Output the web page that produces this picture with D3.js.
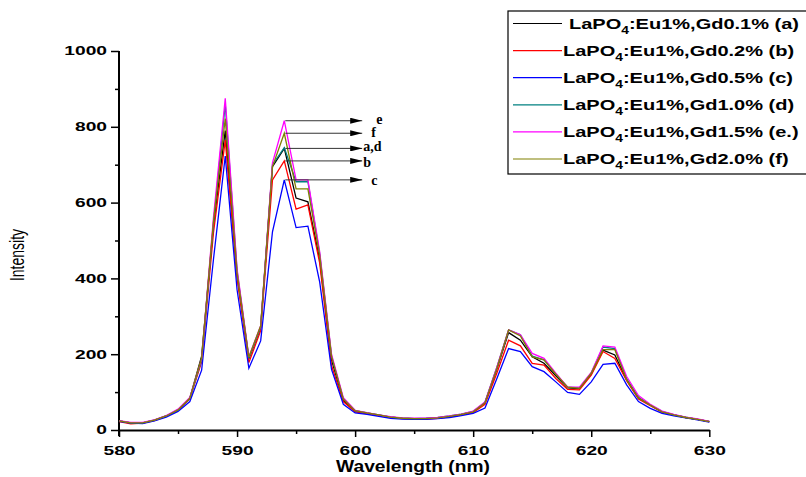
<!DOCTYPE html>
<html>
<head>
<meta charset="utf-8">
<script src="https://cdn.jsdelivr.net/npm/d3@7"></script>
<style>
  body { margin: 0; background: #fff; }
  svg { display: block; }
  .tick text { font-family: "Liberation Sans", Arial, sans-serif; font-weight: bold; font-size: 12px; fill: #000; }
</style>
</head>
<body>
<div class="chart"></div>
<script>
// wavelength (nm)
const wavelengths = [580, 581, 582, 583, 584, 585, 586, 587, 588, 589, 590,
  591, 592, 593, 594, 595, 596, 597, 598, 599, 600,
  601, 602, 603, 604, 605, 606, 607, 608, 609, 610,
  611, 612, 613, 614, 615, 616, 617, 618, 619, 620,
  621, 622, 623, 624, 625, 626, 627, 628, 629, 630];

// emission intensity for each sample
const gd01 = [24, 19, 19, 26, 37, 53, 84, 195, 540, 790, 410,
  188, 270, 695, 743, 612, 602, 450, 185, 78, 50,
  44, 39, 34, 31, 30, 30, 32, 36, 41, 48,
  72, 160, 257, 237, 193, 176, 143, 111, 109, 148,
  211, 198, 132, 84, 66, 48, 40, 33, 28, 22];
const gd02 = [22, 16, 18, 25, 36, 52, 82, 180, 520, 765, 400,
  178, 262, 660, 710, 583, 594, 440, 170, 75, 48,
  43, 38, 33, 30, 29, 29, 31, 35, 40, 46,
  68, 150, 237, 222, 176, 171, 136, 107, 106, 145,
  207, 189, 130, 82, 64, 47, 39, 33, 28, 22];
const gd05 = [23, 18, 17, 24, 34, 49, 75, 158, 450, 723, 370,
  163, 235, 523, 660, 534, 538, 390, 160, 68, 45,
  41, 36, 31, 29, 28, 28, 30, 33, 38, 44,
  58, 135, 215, 207, 167, 154, 127, 99, 94, 127,
  173, 176, 119, 75, 57, 44, 37, 32, 27, 21];
const gd10 = [24, 19, 19, 26, 37, 53, 84, 185, 545, 860, 420,
  190, 272, 700, 745, 655, 655, 465, 195, 82, 51,
  45, 40, 34, 31, 30, 31, 33, 37, 42, 49,
  73, 165, 264, 251, 195, 185, 148, 113, 111, 150,
  219, 215, 135, 86, 66, 49, 40, 34, 28, 23];
const gd15 = [25, 20, 20, 27, 38, 55, 86, 188, 560, 875, 425,
  193, 275, 705, 816, 660, 660, 470, 200, 85, 52,
  46, 40, 35, 32, 31, 31, 33, 37, 42, 50,
  74, 165, 264, 251, 202, 189, 150, 113, 113, 152,
  222, 219, 141, 91, 68, 50, 41, 34, 29, 23];
const gd20 = [24, 19, 19, 26, 37, 53, 84, 190, 550, 822, 415,
  192, 275, 695, 783, 636, 636, 460, 195, 82, 51,
  45, 40, 34, 31, 30, 30, 32, 36, 41, 48,
  72, 162, 264, 248, 193, 185, 147, 113, 110, 150,
  212, 212, 133, 85, 66, 48, 40, 33, 28, 22];

const seriesNames = ["Gd0.1% (a)", "Gd0.2% (b)", "Gd0.5% (c)", "Gd1.0% (d)", "Gd1.5% (e.)", "Gd2.0% (f)"];
const seriesValues = [gd01, gd02, gd05, gd10, gd15, gd20];
const seriesColors = ["#000000", "#ff0000", "#0000ff", "#008080", "#ff00ff", "#808000"];

// peak annotations at 594 nm: label + index of series the arrow starts from
const arrowLabels = ["e", "f", "a,d", "b", "c"];
const arrowSeries = [4, 5, 0, 1, 2];

const xTicks = [580, 590, 600, 610, 620, 630];
const xMinor = [585, 595, 605, 615, 625];
const yTicks = [0, 200, 400, 600, 800, 1000];
const yMinor = [100, 300, 500, 700, 900];

const width = 806, height = 477;

const svg = d3.select(".chart").append("svg")
  .attr("width", width)
  .attr("height", height);

const x = d3.scaleLinear().domain([580, 630]).range([119, 709.3]);
const y = d3.scaleLinear().domain([0, 1000]).range([430, 51]);

// axes
const yMinorAxis = d3.axisLeft(y).tickValues(yMinor).tickSize(4).tickSizeOuter(0).tickFormat("");
svg.append("g").attr("transform", "translate(119,0)").call(yMinorAxis)
  .call(g => g.select(".domain").remove())
  .call(g => g.selectAll("line").attr("stroke-width", 1.5));

const yAxis = d3.axisLeft(y).tickValues(yTicks).tickSize(8).tickSizeOuter(0).tickPadding(4)
  .tickFormat(d3.format("d"));
svg.append("g").attr("transform", "translate(119,0)").call(yAxis)
  .call(g => g.select(".domain").attr("stroke-width", 2).attr("d", "M0,436V51"))
  .call(g => g.selectAll("line").attr("stroke-width", 1.5))
  .call(g => g.selectAll("text")
    .attr("x", -12 / 1.6)
    .attr("transform", "scale(1.6,1)"));

const xMinorAxis = d3.axisBottom(x).tickValues(xMinor).tickSize(4).tickSizeOuter(0).tickFormat("");
svg.append("g").attr("transform", "translate(0,430)").call(xMinorAxis)
  .call(g => g.select(".domain").remove())
  .call(g => g.selectAll("line").attr("stroke-width", 1.5));

const xAxis = d3.axisBottom(x).tickValues(xTicks).tickSize(7).tickSizeOuter(0).tickPadding(9);
svg.append("g").attr("transform", "translate(0,430)").call(xAxis)
  .call(g => g.select(".domain").attr("stroke-width", 2))
  .call(g => g.selectAll("line").attr("stroke-width", 1.5))
  .call(g => g.selectAll("text").attr("transform", "scale(1.6,1)"));

// axis titles
svg.append("text")
  .attr("transform", "translate(413,472) scale(1.2,1)")
  .attr("text-anchor", "middle")
  .style("font-family", "'Liberation Sans', Arial, sans-serif")
  .style("font-weight", "bold")
  .style("font-size", "16px")
  .text("Wavelength (nm)");

svg.append("text")
  .attr("transform", "translate(24,255) scale(1.45,1) rotate(-90)")
  .attr("text-anchor", "middle")
  .style("font-family", "'Liberation Sans', Arial, sans-serif")
  .style("font-size", "14px")
  .text("Intensity");

// series lines
const line = d3.line()
  .x((d, i) => x(wavelengths[i]))
  .y(d => y(d));

svg.append("g")
  .selectAll("path")
  .data(seriesValues)
  .enter()
  .append("path")
  .attr("d", d => line(d))
  .attr("fill", "none")
  .attr("stroke", (d, i) => seriesColors[i])
  .attr("stroke-width", 1.3)
  .attr("stroke-linejoin", "miter");

// arrows from the 594 nm peak
svg.append("defs").append("marker")
  .attr("id", "head")
  .attr("viewBox", "0 0 12 6")
  .attr("refX", 12).attr("refY", 3)
  .attr("markerWidth", 12).attr("markerHeight", 6)
  .attr("markerUnits", "userSpaceOnUse")
  .attr("orient", "auto")
  .append("path").attr("d", "M0,0L12,3L0,6Z").attr("fill", "#000");

const peakIdx = wavelengths.indexOf(594);
const arrowEnd = 600.6;
const labelShiftX = [14, 9, 1, 1, 9];
const labelShiftY = [3, 4, 3, 6, 5];

const arrows = svg.append("g");
arrowLabels.forEach((lab, k) => {
  const v = seriesValues[arrowSeries[k]][peakIdx];
  arrows.append("line")
    .attr("x1", x(594) + 1).attr("x2", x(arrowEnd))
    .attr("y1", y(v)).attr("y2", y(v))
    .attr("stroke", "#333").attr("stroke-width", 1)
    .attr("marker-end", "url(#head)");
  arrows.append("text")
    .attr("x", x(arrowEnd) + labelShiftX[k])
    .attr("y", y(v) + labelShiftY[k])
    .style("font-family", "'Liberation Serif', 'Times New Roman', serif")
    .style("font-weight", "bold")
    .style("font-size", "14px")
    .text(lab);
});

// legend
const legend = svg.append("g");
legend.append("rect")
  .attr("x", 508).attr("y", 11)
  .attr("width", 320).attr("height", 163)
  .attr("fill", "#fff").attr("stroke", "#000").attr("stroke-width", 1.2);

seriesNames.forEach((name, i) => {
  const ly = 23.5 + i * 27.1;
  legend.append("line")
    .attr("x1", 513).attr("x2", 562)
    .attr("y1", ly).attr("y2", ly)
    .attr("stroke", seriesColors[i]).attr("stroke-width", 1.2);
  const t = legend.append("text")
    .attr("transform", "translate(" + (i === 0 ? 569 : 563) + "," + (ly + 5) + ") scale(1.38,1)")
    .style("font-family", "'Liberation Sans', Arial, sans-serif")
    .style("font-weight", "bold")
    .style("font-size", "14.5px");
  t.append("tspan").text("LaPO");
  t.append("tspan").attr("dy", 5).style("font-size", "10px").text("4");
  t.append("tspan").attr("dy", -5).text(":Eu1%," + name);
});
</script>
</body>
</html>
